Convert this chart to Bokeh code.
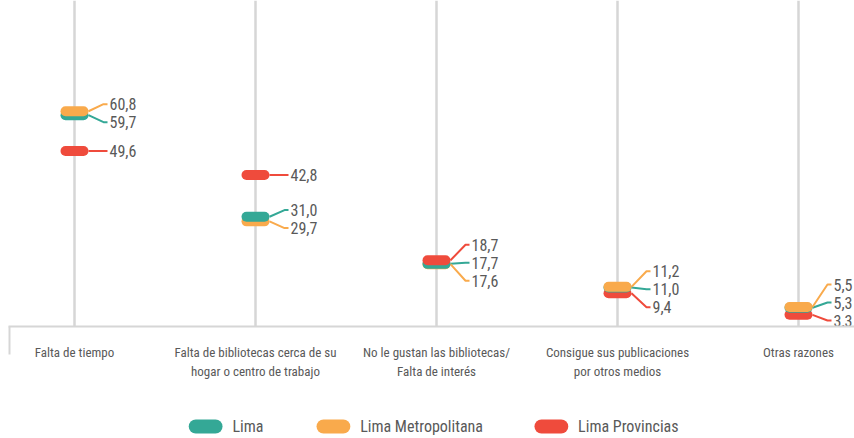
from bokeh.plotting import figure
from bokeh.layouts import column
from bokeh.models import FixedTicker, ColumnDataSource
from bokeh.core.properties import value
from bokeh.embed import file_html
from bokeh.resources import INLINE

categories = [
    "Falta de tiempo",
    "Falta de bibliotecas cerca de su\nhogar o centro de trabajo",
    "No le gustan las bibliotecas/\nFalta de interés",
    "Consigue sus publicaciones\npor otros medios",
    "Otras razones",
]
series_names = ["Lima", "Lima Metropolitana", "Lima Provincias"]
lima = [59.7, 31.0, 17.7, 11.0, 5.3]
lima_metro = [60.8, 29.7, 17.6, 11.2, 5.5]
lima_prov = [49.6, 42.8, 18.7, 9.4, 3.3]
series_values = [lima, lima_metro, lima_prov]
colors = ["#34A896", "#F9AA4C", "#EF4B3C"]

FONT = "Roboto Condensed"
TEXT_COLOR = "#595959"
GRID_COLOR = "#d6d6d6"

W, H = 854, 438
LEFT, BOTTOM = 8, 58
FH = 326
FW = W - LEFT
H1 = FH + BOTTOM
H2 = H - H1
n = len(categories)
cat_px = 181.0  # pixel spacing between categories
x_start = -66.0 / cat_px
x_end = x_start + FW / cat_px
ypx = 3.54  # pixels per percentage point
y_max = FH / ypx
dx = 1.0 / cat_px

p = figure(width=W, height=H1, x_range=(x_start, x_end), y_range=(0, y_max),
           output_backend="svg", toolbar_location=None, y_axis_location=None,
           min_border_left=LEFT, min_border_right=0, min_border_top=0,
           min_border_bottom=BOTTOM)
p.outline_line_color = None
p.background_fill_color = None
p.border_fill_color = None

ticker = FixedTicker(ticks=list(range(n)), minor_ticks=[x_start + 0.006])
p.xaxis.ticker = ticker
p.xaxis.major_label_overrides = {i: c for i, c in enumerate(categories)}
p.xaxis.major_tick_out = 0
p.xaxis.major_tick_in = 0
p.xaxis.minor_tick_in = 0
p.xaxis.minor_tick_out = 28
p.xaxis.minor_tick_line_color = GRID_COLOR
p.xaxis.minor_tick_line_width = 2
p.xaxis.axis_line_color = GRID_COLOR
p.xaxis.axis_line_width = 2
p.xaxis.major_label_standoff = -10
p.xaxis.major_label_text_font = FONT
p.xaxis.major_label_text_font_size = "13px"
p.xaxis.major_label_text_color = TEXT_COLOR
p.xaxis.major_label_text_line_height = 1.3
p.xgrid.ticker = ticker
p.xgrid.grid_line_color = GRID_COLOR
p.xgrid.grid_line_width = 2.5
p.ygrid.grid_line_color = None


def spread(vals, gap, floor):
    order = sorted(range(len(vals)), key=lambda i: -vals[i])
    clusters = []

    def positions(cl):
        c = sum(vals[i] for i in cl) / len(cl)
        k = len(cl)
        pos = [c + gap * ((k - 1) / 2 - j) for j in range(k)]
        if pos[-1] < floor:
            pos = [q + floor - pos[-1] for q in pos]
        return pos

    for i in order:
        clusters.append([i])
        while len(clusters) > 1:
            a, b = clusters[-2], clusters[-1]
            if positions(a)[-1] - gap < positions(b)[0]:
                clusters[-2] = a + b
                clusters.pop()
            else:
                break
    out = [0.0] * len(vals)
    for cl in clusters:
        for i, pos in zip(cl, positions(cl)):
            out[i] = pos
    return out


gap = 18.0 / ypx
floor = 6.0 / ypx
label_pos = [spread([s[c] for s in series_values], gap, floor) for c in range(n)]

# connectors
xs_l, ys_l, cols_l = [], [], []
tx, ty, tt = [], [], []
for c in range(n):
    for s in range(3):
        v = series_values[s][c]
        ly = label_pos[c][s]
        xs_l.append([c + 14 * dx, c + 29 * dx, c + 33 * dx])
        ys_l.append([v, ly, ly])
        cols_l.append(colors[s])
        tx.append(c)
        ty.append(ly)
        tt.append(f"{v:.1f}".replace(".", ","))
p.multi_line(xs=xs_l, ys=ys_l, line_color=cols_l, line_width=2)

# pills drawn in ascending order per category (higher value on top)
for rank in range(3):
    src = dict(x0=[], x1=[], y=[], color=[])
    for c in range(n):
        vals = [series_values[s][c] for s in range(3)]
        order = sorted(range(3), key=lambda i: vals[i])
        s = order[rank]
        src["x0"].append(c - 9 * dx)
        src["x1"].append(c + 9 * dx)
        src["y"].append(vals[s])
        src["color"].append(colors[s])
    cds = ColumnDataSource(src)
    p.segment(x0="x0", y0="y", x1="x1", y1="y", source=cds, line_color="color",
              line_width=10, line_cap="round")

p.text(x=tx, y=ty, text=tt, x_offset=35, text_align="left", text_baseline="middle",
       text_font=value(FONT), text_font_size="16px", text_color=TEXT_COLOR)

# legend strip: pixel-unit ranges, rounded swatches + labels
LEGEND_LEFT = [182, 311, 531]   # layout: left edge of each swatch (px)
SWATCH_W, SWATCH_H, LABEL_GAP = 34, 14, 10
LEGEND_Y = 12                    # px above strip bottom

p2 = figure(width=W, height=H2, x_range=(0, W), y_range=(0, H2),
            output_backend="svg", toolbar_location=None,
            x_axis_location=None, y_axis_location=None,
            min_border_left=0, min_border_right=0, min_border_top=0, min_border_bottom=0)
p2.outline_line_color = None
p2.background_fill_color = None
p2.border_fill_color = None
p2.xgrid.visible = False
p2.ygrid.visible = False
half = SWATCH_H / 2
p2.segment(x0=[x + half for x in LEGEND_LEFT], y0=[LEGEND_Y] * 3,
           x1=[x + SWATCH_W - half for x in LEGEND_LEFT], y1=[LEGEND_Y] * 3,
           line_color=colors, line_width=SWATCH_H, line_cap="round")
p2.text(x=[x + SWATCH_W + LABEL_GAP for x in LEGEND_LEFT], y=[LEGEND_Y] * 3,
        text=series_names, text_align="left", text_baseline="middle",
        text_font=value(FONT), text_font_size="16px", text_color=TEXT_COLOR)

layout = column(p, p2, spacing=0)
open("out.html", "w").write(file_html(layout, INLINE))
